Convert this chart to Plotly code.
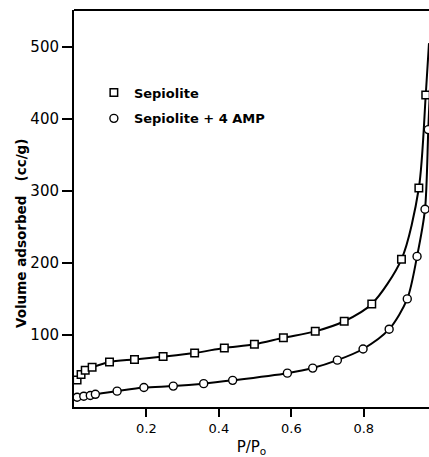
import plotly.graph_objects as go

# Sepiolite (squares)
sep_x = [0.0085, 0.0195, 0.031, 0.05, 0.098, 0.167, 0.246, 0.333, 0.415, 0.498,
         0.578, 0.666, 0.746, 0.822, 0.904, 0.952, 0.971]
sep_y = [37.5, 45, 51, 55, 62.5, 66, 70, 75, 82, 87,
         96, 105, 119, 143, 205, 304, 433]
# curve end (line continues to top right)
sep_curve_end = (0.98, 505)

# Sepiolite + 4 AMP (circles)
amp_x = [0.0085, 0.027, 0.045, 0.059, 0.119, 0.193, 0.274, 0.358, 0.438, 0.589,
         0.659, 0.727, 0.798, 0.870, 0.920, 0.947, 0.969, 0.978]
amp_y = [13.5, 15, 16, 17.6, 22, 27, 29, 32.4, 37, 47,
         54, 65, 80.5, 108, 150, 209, 274.5, 385]
amp_curve_end = (0.985, 470)

x_ticks = [0.2, 0.4, 0.6, 0.8]
y_ticks = [100, 200, 300, 400, 500]

FONT = "DejaVu Sans"

fig = go.Figure()

fig.add_trace(go.Scatter(
    x=sep_x + [sep_curve_end[0]], y=sep_y + [sep_curve_end[1]],
    mode="lines", line=dict(color="black", width=2, shape="spline", smoothing=0.8),
    showlegend=False, hoverinfo="skip"))
fig.add_trace(go.Scatter(
    x=amp_x + [amp_curve_end[0]], y=amp_y + [amp_curve_end[1]],
    mode="lines", line=dict(color="black", width=2, shape="spline", smoothing=0.8),
    showlegend=False, hoverinfo="skip"))

fig.add_trace(go.Scatter(
    x=sep_x, y=sep_y, mode="markers", name="Sepiolite", legendgroup="a",
    marker=dict(symbol="square", size=7.5, color="white",
                line=dict(color="black", width=1.5))))
fig.add_trace(go.Scatter(
    x=amp_x, y=amp_y, mode="markers", name="Sepiolite + 4 AMP", legendgroup="b",
    marker=dict(symbol="circle", size=8, color="white",
                line=dict(color="black", width=1.4))))

fig.add_shape(type="line", xref="paper", yref="paper", x0=0, x1=1, y0=1, y1=1,
              line=dict(color="black", width=2))

fig.add_annotation(text="Volume adsorbed   (cc/g)", textangle=-90,
                   xref="paper", yref="paper", x=-(74 - 21) / 355, y=1 - (234 - 10) / 397,
                   xanchor="center", yanchor="middle", showarrow=False,
                   font=dict(size=13.5, family=FONT, weight="bold"))

fig.update_layout(
    width=429, height=457,
    margin=dict(l=74, r=0, t=10, b=50),
    plot_bgcolor="white", paper_bgcolor="white",
    font=dict(family=FONT, color="black"),
    showlegend=True,
    legend=dict(x=0.056, y=0.83, xanchor="left", yanchor="top",
                bgcolor="rgba(0,0,0,0)", font=dict(size=13, family=FONT, weight="bold"),
                tracegroupgap=6, itemwidth=30),
    xaxis=dict(range=[0, 0.98], tickvals=x_ticks, ticktext=[f"{v:.1f}" for v in x_ticks],
               showgrid=False, zeroline=False, showline=True, linecolor="black", linewidth=2,
               ticks="outside", ticklen=8, tickwidth=2, tickcolor="black",
               tickfont=dict(size=13, family=FONT),
               title=dict(text="P/P<sub>o</sub>", font=dict(size=15, family=FONT), standoff=8)),
    yaxis=dict(range=[0, 551], tickvals=y_ticks, showgrid=False, zeroline=False,
               showline=True, linecolor="black", linewidth=2,
               ticks="outside", ticklen=10, tickwidth=2, tickcolor="black",
               tickfont=dict(size=15, family=FONT)),
)

fig.write_html("out.html", config={"displayModeBar": False},
               post_script="document.body.style.margin='0';document.body.style.overflow='hidden';")
